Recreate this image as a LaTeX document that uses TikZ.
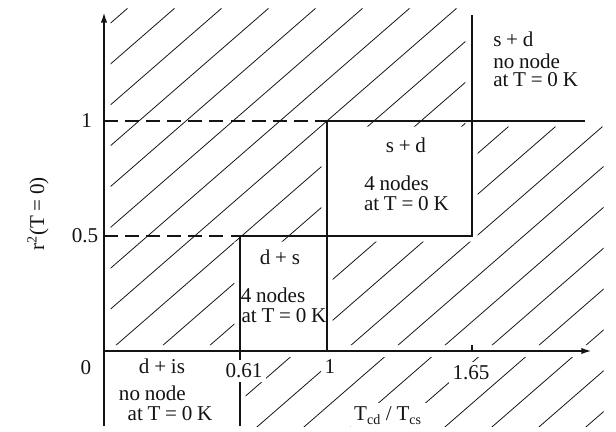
\documentclass[tikz,border=0pt]{standalone}
\usepackage{fontspec}
\setmainfont{Liberation Serif}[WordSpace=0.9]
\usepackage{tikz}
\usetikzlibrary{arrows.meta,positioning,calc}
\definecolor{ink}{RGB}{20,20,20}
\tikzset{
  axis/.style={line width=1.1pt,ink,-{Latex[length=6pt,width=3.6pt]}},
  border/.style={line width=0.95pt,ink},
  guide/.style={line width=0.6pt,ink,dash pattern=on 8pt off 4pt},
  hatch/.style={line width=0.45pt,ink},
  label/.style={font=\fontsize{12}{12}\selectfont,text=ink,inner sep=0pt,anchor=base},
  knockout/.style={label,fill=white,inner sep=2pt}
}
\newcommand\hatchin[1]{%
  \begin{scope}
    \clip #1;
    \foreach \i in {0,...,42}
      \draw[hatch] ($(-2.3,-0.36)+(\i*0.94cm,0)$) -- ++(41:22cm);
  \end{scope}}

\begin{document}
\begin{tikzpicture}[x=4.46cm,y=4.6cm]
  \useasboundingbox (-0.4664,-0.3522) rectangle (2.2960,1.5261);
  \hatchin{(0.03,1.49) -- (1.62,1.49) -- (1.62,0.975) -- (0.975,0.975) -- (0.975,0.475)
    -- (0.585,0.475) -- (0.585,0.025) -- (0.03,0.025) -- cycle}
  \hatchin{(1.675,0.975) -- (2.24,0.975) -- (2.24,0.025) -- (1.025,0.025) -- (1.025,0.475)
    -- (1.675,0.475) -- cycle}
  \hatchin{(0.635,-0.03) -- (2.24,-0.03) -- (2.24,-0.33) -- (0.635,-0.33) -- cycle}
  \coordinate (O) at (0,0);
  \coordinate (ytip) at (0,1.474);
  \coordinate (ybot) at (0,-0.326);
  \coordinate (xtip) at (2.188,0);
  \coordinate (e1) at (0,0.5);
  \coordinate (e2) at (0,1);
  \coordinate (a0) at (0.61,-0.326);
  \coordinate (a1) at (0.61,0.5);
  \coordinate (b0) at (1,0);
  \coordinate (b2) at (1,1);
  \coordinate (c1) at (1.65,0.5);
  \coordinate (c3) at (1.65,1.461);
  \coordinate (d2) at (2.157,1);
  \coordinate (t0) at (1.65,0);
  \draw[guide] (e2) -- (b2);
  \draw[guide] (e1) -- (a1);
  \draw[border] (a0) -- (a1) -- (c1) -- (c3);
  \draw[border] (b0) -- (b2) -- (d2);
  \draw[border] (t0) -- ++(0,0.025);
  \draw[line width=1.1pt,ink] (ybot) -- (O);
  \draw[axis] (O) -- (ytip);
  \draw[axis] (O) -- (xtip);
  \node[label,anchor=center,rotate=90] (ylab) at (-0.296,0.596) {r\textsuperscript{2}(T = 0)};
  \node[label,anchor=center] (y1) at (-0.078,1) {1};
  \node[label,anchor=center] (y05) at (-0.085,0.5) {0.5};
  \node[label,anchor=center] (y0) at (-0.081,-0.074) {0};
  \node[knockout] (x061) at (0.628,-0.117) {0.61};
  \node[knockout] (x1) at (1.013,-0.096) {1};
  \node[knockout] (x165) at (1.646,-0.126) {1.65};
  \node[knockout] (xlab) at (1.274,-0.304) {T\textsubscript{cd} / T\textsubscript{cs}};
  \node[label] (dis) at (0.26,-0.096) {d + is};
  \node[label] (dis1) at (0.217,-0.217) {no node};
  \node[label] (dis2) at (0.296,-0.304) {at T = 0 K};
  \node[label] (ds) at (0.789,0.378) {d + s};
  \node[label] (ds1) at (0.758,0.209) {4 nodes};
  \node[label] (ds2) at (0.807,0.122) {at T = 0 K};
  \node[label] (sd) at (1.354,0.865) {s + d};
  \node[label] (sd1) at (1.312,0.696) {4 nodes};
  \node[label] (sd2) at (1.356,0.609) {at T = 0 K};
  \node[label,anchor=base west] (sdn) at (1.744,1.322) {s + d};
  \node[label,anchor=base west] (sdn1) at (1.744,1.230) {no node};
  \node[label,anchor=base west] (sdn2) at (1.744,1.148) {at T = 0 K};
\end{tikzpicture}
\end{document}
